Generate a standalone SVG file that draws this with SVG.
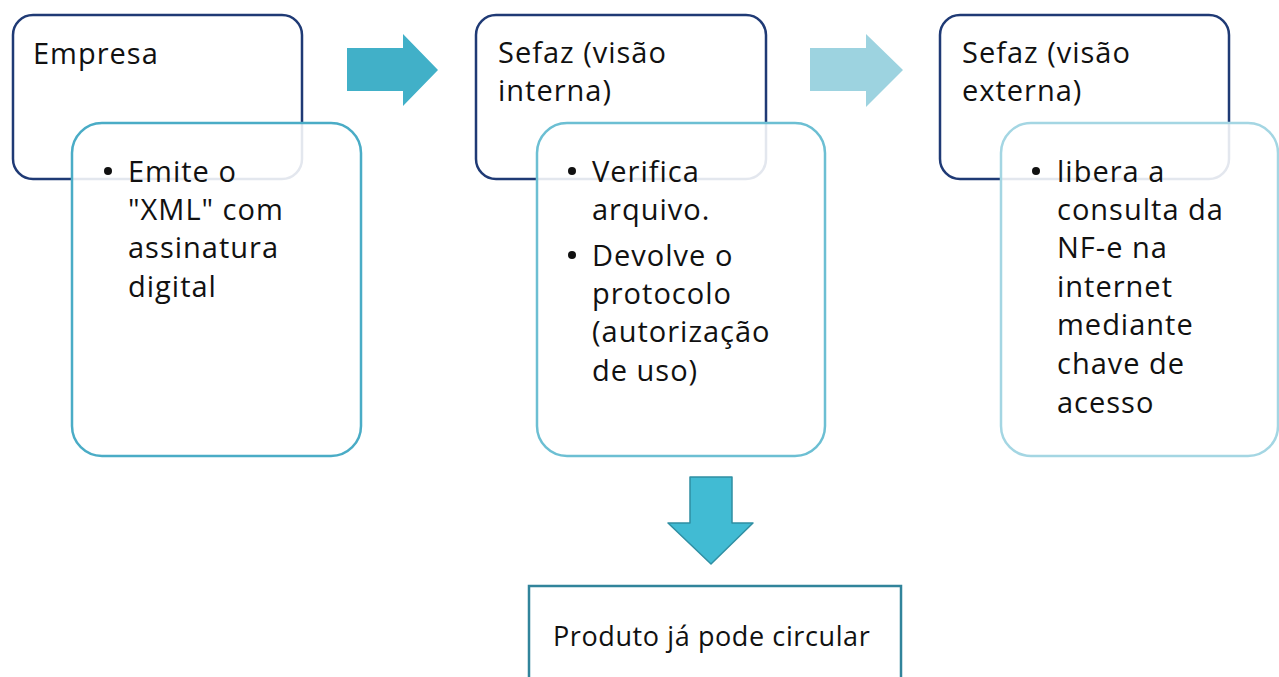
<svg xmlns="http://www.w3.org/2000/svg" width="1279" height="677" viewBox="0 0 1279 677">
<style>
.outer{fill:#ffffff;stroke:#1f3a75;stroke-width:2.5}
.inner{fill:#ffffff;fill-opacity:0.88;stroke-width:2.5}
.t{font-family:"Open Sans","Noto Sans",sans-serif;font-size:29px;fill:#111111;letter-spacing:1px}
.b{fill:#111111}
</style>
<rect width="1279" height="677" fill="#ffffff"/>
<g id="connectors">
  <polygon points="347,48 403,48 403,34 438,70 403,106 403,91 347,91" fill="#41b0c8"/>
  <polygon points="810,48 866,48 866,34 903,70 866,107 866,91 810,91" fill="#9dd3e0"/>
  <polygon points="690,477 732,477 732,523 753,523 711,564 668,523 690,523" fill="#41bbd3" stroke="#2f8fa3" stroke-width="1.5" stroke-linejoin="round"/>
</g>
<g id="empresa">
  <rect class="outer" x="13" y="15" width="289" height="164" rx="20"/>
  <text class="t" x="33" y="64">Empresa</text>
</g>
<g id="sefaz-interna">
  <rect class="outer" x="476" y="15" width="290" height="164" rx="20"/>
  <text class="t" x="498" y="63">Sefaz (visão</text>
  <text class="t" x="498" y="101">interna)</text>
</g>
<g id="sefaz-externa">
  <rect class="outer" x="940" y="15" width="289" height="164" rx="20"/>
  <text class="t" x="962" y="63">Sefaz (visão</text>
  <text class="t" x="962" y="101">externa)</text>
</g>
<g id="empresa-detalhe">
  <rect class="inner" x="72" y="123" width="289" height="333" rx="30" stroke="#4aacc6"/>
  <circle class="b" cx="108" cy="171" r="4"/>
  <text class="t" x="128" y="182">Emite o</text>
  <text class="t" x="128" y="220">"XML" com</text>
  <text class="t" x="128" y="258">assinatura</text>
  <text class="t" x="128" y="297">digital</text>
</g>
<g id="sefaz-interna-detalhe">
  <rect class="inner" x="537" y="123" width="288" height="333" rx="30" stroke="#6cbfd3"/>
  <circle class="b" cx="572" cy="171" r="4"/>
  <text class="t" x="592" y="182">Verifica</text>
  <text class="t" x="592" y="220">arquivo.</text>
  <circle class="b" cx="572" cy="255" r="4"/>
  <text class="t" x="592" y="266">Devolve o</text>
  <text class="t" x="592" y="304">protocolo</text>
  <text class="t" x="592" y="342">(autorização</text>
  <text class="t" x="592" y="381">de uso)</text>
</g>
<g id="sefaz-externa-detalhe">
  <rect class="inner" x="1001" y="123" width="277" height="333" rx="30" stroke="#a4d6e3"/>
  <circle class="b" cx="1036" cy="171" r="4"/>
  <text class="t" x="1057" y="182">libera a</text>
  <text class="t" x="1057" y="220">consulta da</text>
  <text class="t" x="1057" y="258">NF-e na</text>
  <text class="t" x="1057" y="297">internet</text>
  <text class="t" x="1057" y="335">mediante</text>
  <text class="t" x="1057" y="374">chave de</text>
  <text class="t" x="1057" y="413">acesso</text>
</g>
<g id="produto">
  <rect x="529" y="586" width="372" height="110" fill="#ffffff" stroke="#31849b" stroke-width="2.5"/>
  <text class="t" x="553" y="646" style="font-size:27px;letter-spacing:0.6px">Produto já pode circular</text>
</g>
</svg>
